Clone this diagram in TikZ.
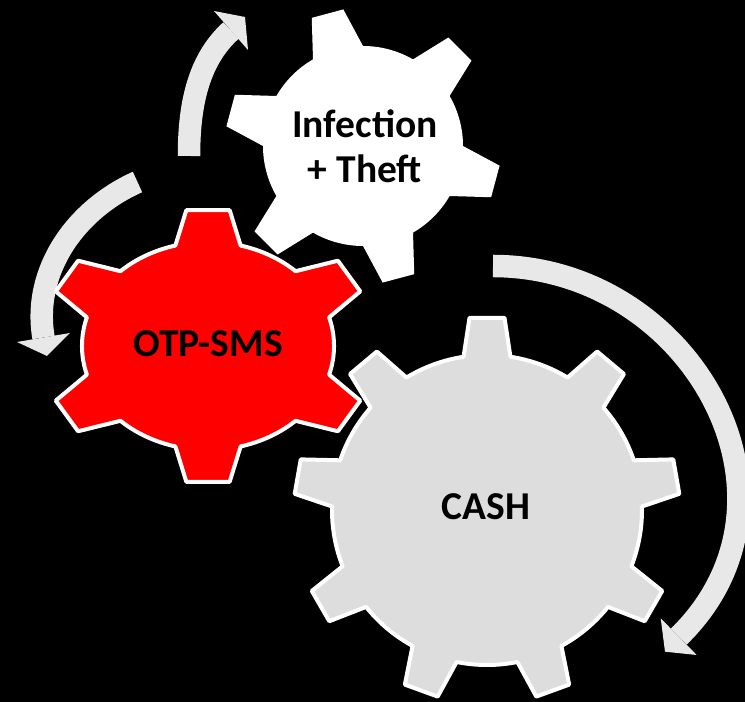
\documentclass[tikz,border=0pt]{standalone}
\usepackage{fontspec}
\setmainfont{Carlito}
\definecolor{gearred}{HTML}{FF0000}
\definecolor{gearlight}{HTML}{DDDDDD}
\definecolor{arrowgray}{HTML}{E8E8E8}
\begin{document}
\begin{tikzpicture}[x=1bp,y=1bp,
  arrowbody/.style={draw=arrowgray, line width=22.5bp},
  arrowtip/.style={fill=arrowgray},
  gearline/.style={draw=white, line width=4bp, line join=round},
  label/.style={font=\fontsize{39.5bp}{45bp}\selectfont\bfseries, text=black, align=center, inner sep=0pt}]
\useasboundingbox (0,0) rectangle (745,702);
\fill[black] (0,0) rectangle (745,702);

% ---- arrows ----
\coordinate (a1s) at (189,546);
\coordinate (a1e) at (231,671.5);
\draw[arrowbody] (a1s) to[out=90,in=222,looseness=0.9] (a1e);
\fill[arrowtip] (214,691) -- (245,685) -- (248,652) -- cycle;

\coordinate (a2s) at (137.5,520);
\coordinate (a2e) at (43.5,364.5);
\draw[arrowbody] (a2s) to[out=204,in=99.6,looseness=0.95] (a2e);
\fill[arrowtip] (17,360) -- (47,346) -- (70,369) -- cycle;

\coordinate (a3s) at (493,436);
\coordinate (a3e) at (678.7,65.3);
\draw[arrowbody] (a3s) to[out=0,in=44.4,looseness=1.22] (a3e);
\fill[arrowtip] (660.7,83.7) -- (665,50.3) -- (696.7,47) -- cycle;

% ---- CASH gear ----
\begin{scope}[shift={(487,192)}]
\path[fill=gearlight, gearline] (81.3:155)
  \foreach \a in {90,130,...,410} {
    -- ({\a-8.7}:155) -- ({\a-5.2}:193) -- ({\a+5.2}:193) -- ({\a+8.7}:155)
    arc[start angle={\a+8.7}, end angle={\a+40-8.7}, radius=155]
  } -- cycle;
\end{scope}

% ---- Infection gear ----
\begin{scope}[shift={(363,556)}]
\fill[white] (-30:100)
  \foreach \a in {-15,45,...,285} {
    -- ({\a-15}:100) -- ({\a-6.8}:138) -- ({\a+6.8}:138) -- ({\a+15}:100)
    arc[start angle={\a+15}, end angle={\a+60-15}, radius=100]
  } -- cycle;
\end{scope}

% ---- OTP-SMS gear ----
\begin{scope}[shift={(208,356)}, xscale=1.2117]
\path[fill=gearred, gearline] (75:104)
  \foreach \a/\b in {90/149,149/211,211/270,270/329,329/391,391/450} {
    -- ({\a-15}:104) -- ({\a-7.5}:137) -- ({\a+7.5}:137) -- ({\a+15}:104)
    arc[start angle={\a+15}, end angle={\b-15}, radius=104]
  } -- cycle;
\end{scope}

% ---- labels ----
\node[label] (inf) at (365,556) {Infection\\+ Theft};
\node[label, anchor=base] (otp) at (208,345) {OTP-SMS};
\node[label, anchor=base] (cash) at (486,182) {CASH};
\end{tikzpicture}
\end{document}
